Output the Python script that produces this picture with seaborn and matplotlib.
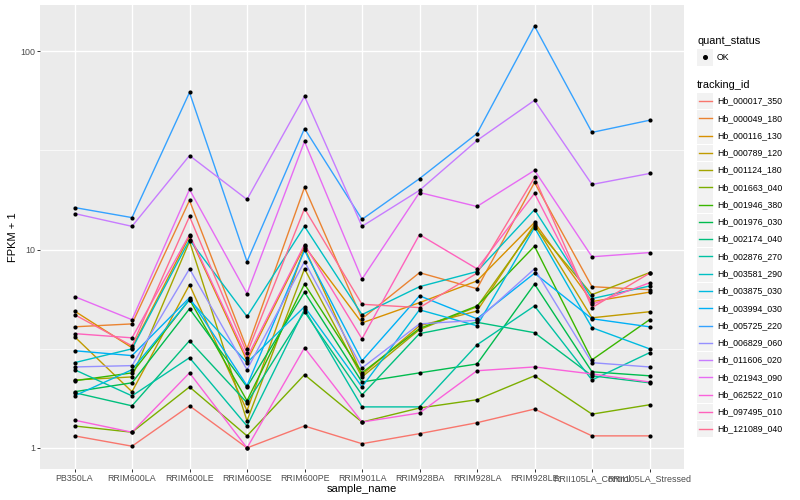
import numpy as np
import pandas as pd
import seaborn as sns
import matplotlib.pyplot as plt
from matplotlib.patches import Rectangle
from matplotlib.ticker import FixedLocator, NullFormatter

plt.rcParams['font.family'] = ['Liberation Sans', 'DejaVu Sans']

samples = ['PB350LA', 'RRIM600LA', 'RRIM600LE', 'RRIM600SE', 'RRIM600PE', 'RRIM901LA',
           'RRIM928BA', 'RRIM928LA', 'RRIM928LE', 'RRII105LA_Control', 'RRII105LA_Stressed']

genes = ['Hb_000017_350', 'Hb_000049_180', 'Hb_000116_130', 'Hb_000789_120', 'Hb_001124_180',
         'Hb_001663_040', 'Hb_001946_380', 'Hb_001976_030', 'Hb_002174_040', 'Hb_002876_270',
         'Hb_003581_290', 'Hb_003875_030', 'Hb_003994_030', 'Hb_005725_220', 'Hb_006829_060',
         'Hb_011606_020', 'Hb_021943_090', 'Hb_062522_010', 'Hb_097495_010', 'Hb_121089_040']

# FPKM + 1, one list per gene, in sample order
hb_000017_350 = [1.15, 1.02, 1.63, 1.0, 1.29, 1.05, 1.18, 1.34, 1.57, 1.15, 1.15]
hb_000049_180 = [4.08, 4.22, 17.7, 3.16, 20.6, 4.48, 7.65, 6.35, 21.8, 6.5, 6.28]
hb_000116_130 = [4.9, 3.2, 11.7, 2.75, 10.4, 4.27, 5.4, 6.95, 13.7, 5.47, 6.1]
hb_000789_120 = [3.64, 1.92, 6.65, 1.54, 10.2, 2.34, 4.13, 4.9, 13.4, 4.53, 4.86]
hb_001124_180 = [2.2, 2.28, 11.0, 1.37, 8.0, 2.28, 3.95, 5.15, 13.1, 5.93, 7.65]
hb_001663_040 = [1.29, 1.2, 2.03, 1.15, 2.34, 1.35, 1.59, 1.75, 2.31, 1.48, 1.65]
hb_001946_380 = [2.18, 2.39, 5.6, 1.73, 6.7, 2.39, 4.0, 5.2, 10.4, 2.78, 4.43]
hb_001976_030 = [1.92, 2.13, 5.03, 2.03, 6.1, 2.15, 2.39, 2.65, 6.7, 2.42, 2.31]
hb_002174_040 = [1.9, 1.63, 3.47, 1.69, 4.86, 1.85, 3.77, 4.3, 3.81, 2.31, 2.13]
hb_002876_270 = [2.48, 1.83, 2.85, 1.29, 5.0, 1.61, 1.61, 3.31, 5.2, 2.2, 3.02]
hb_003581_290 = [2.69, 3.16, 11.2, 4.6, 13.1, 4.7, 6.5, 7.75, 15.9, 5.66, 6.55]
hb_003875_030 = [1.83, 2.48, 5.59, 2.69, 5.15, 2.03, 4.97, 4.13, 12.9, 4.04, 3.16]
hb_003994_030 = [3.09, 2.92, 5.72, 2.06, 9.9, 2.75, 5.85, 4.48, 7.6, 4.48, 4.08]
hb_005725_220 = [16.3, 14.5, 62.0, 8.7, 40.8, 14.2, 22.8, 38.5, 134.0, 39.0, 44.9]
hb_006829_060 = [2.56, 2.6, 8.0, 2.48, 8.7, 2.53, 4.22, 4.4, 8.0, 2.69, 2.56]
hb_011606_020 = [15.2, 13.1, 29.8, 17.9, 59.3, 13.1, 19.9, 35.5, 56.6, 21.3, 24.2]
hb_021943_090 = [5.8, 4.43, 20.1, 6.0, 35.1, 7.1, 19.4, 16.5, 25.1, 9.2, 9.66]
hb_062522_010 = [1.38, 1.2, 2.39, 1.0, 3.2, 1.35, 1.5, 2.45, 2.56, 2.36, 2.15]
hb_097495_010 = [3.77, 3.59, 11.9, 2.85, 10.6, 3.55, 11.9, 8.0, 19.2, 5.3, 6.8]
hb_121089_040 = [4.7, 3.27, 14.7, 3.0, 16.1, 5.3, 5.1, 7.6, 23.1, 5.1, 7.6]

values = [hb_000017_350, hb_000049_180, hb_000116_130, hb_000789_120, hb_001124_180,
          hb_001663_040, hb_001946_380, hb_001976_030, hb_002174_040, hb_002876_270,
          hb_003581_290, hb_003875_030, hb_003994_030, hb_005725_220, hb_006829_060,
          hb_011606_020, hb_021943_090, hb_062522_010, hb_097495_010, hb_121089_040]

# ggplot default hue palette for 20 levels
colors = ['#F8766D', '#EA8331', '#D89000', '#C09B00', '#A3A500', '#7CAE00', '#39B600',
          '#00BB4E', '#00BF7D', '#00C1A3', '#00BFC4', '#00BAE0', '#00B0F6', '#35A2FF',
          '#9590FF', '#C77CFF', '#E76BF3', '#FA62DB', '#FF62BC', '#FF6C91']
palette = dict(zip(genes, colors))

rows = []
for g, vals in zip(genes, values):
    for i, (s, v) in enumerate(zip(samples, vals)):
        rows.append({'tracking_id': g, 'sample_name': s, 'pos': i, 'fpkm': v})
df = pd.DataFrame(rows)

fig = plt.figure(figsize=(8, 5), dpi=100)
ax = fig.add_axes([40 / 800, 31 / 500, 644 / 800, 464 / 500])
ax.set_facecolor('#EBEBEB')
for sp in ax.spines.values():
    sp.set_visible(False)

sns.lineplot(data=df, x='pos', y='fpkm', hue='tracking_id', palette=palette, hue_order=genes,
             units='tracking_id', estimator=None, sort=False, linewidth=1.0, legend=False, ax=ax)
sns.scatterplot(data=df, x='pos', y='fpkm', color='black', s=9, linewidth=0, legend=False,
                ax=ax, zorder=3)

ax.set_yscale('log')
lo, hi = np.log10(df['fpkm'].min()), np.log10(df['fpkm'].max())
pad = 0.05 * (hi - lo)
ax.set_ylim(10 ** (lo - pad), 10 ** (hi + pad))
ax.set_xlim(-0.6, len(samples) - 1 + 0.6)

ax.yaxis.set_major_locator(FixedLocator([1, 10, 100]))
ax.set_yticklabels(['1', '10', '100'])
ax.yaxis.set_minor_locator(FixedLocator([10 ** 0.5, 10 ** 1.5]))
ax.yaxis.set_minor_formatter(NullFormatter())
ax.set_xticks(range(len(samples)))
ax.set_xticklabels(samples)

ax.grid(which='major', color='white', linewidth=1.0)
ax.grid(which='minor', axis='y', color='white', linewidth=0.5)
ax.set_axisbelow(True)
ax.tick_params(which='major', length=2, width=0.7, color='#333333', labelcolor='#4D4D4D',
               labelsize=6.4, pad=1.5)
ax.tick_params(which='minor', length=0)

ax.set_xlabel('sample_name', fontsize=8, color='black', labelpad=1)
ax.set_ylabel('FPKM + 1', fontsize=8, color='black', labelpad=1.5)

# legend drawn in pixel coordinates
lax = fig.add_axes([690 / 800, 0, 110 / 800, 1])
lax.set_xlim(690, 800)
lax.set_ylim(500, 0)
lax.axis('off')

lax.text(697, 41, 'quant_status', fontsize=7.9, va='center', ha='left')
lax.add_patch(Rectangle((697, 49), 16, 16.5, facecolor='#F2F2F2', edgecolor='none'))
lax.plot([705], [57], 'o', color='black', markersize=2.6)
lax.text(717, 57, 'OK', fontsize=6.3, va='center', ha='left')

lax.text(697, 85, 'tracking_id', fontsize=7.9, va='center', ha='left')
for i, g in enumerate(genes):
    yc = 101 + i * 17.27
    lax.add_patch(Rectangle((697, yc - 8.3), 16, 16.6, facecolor='#F2F2F2', edgecolor='none'))
    lax.plot([698.5, 711.5], [yc, yc], color=palette[g], linewidth=1.0)
    lax.text(717, yc, g, fontsize=6.3, va='center', ha='left')

fig.savefig('out.png', dpi=100)
